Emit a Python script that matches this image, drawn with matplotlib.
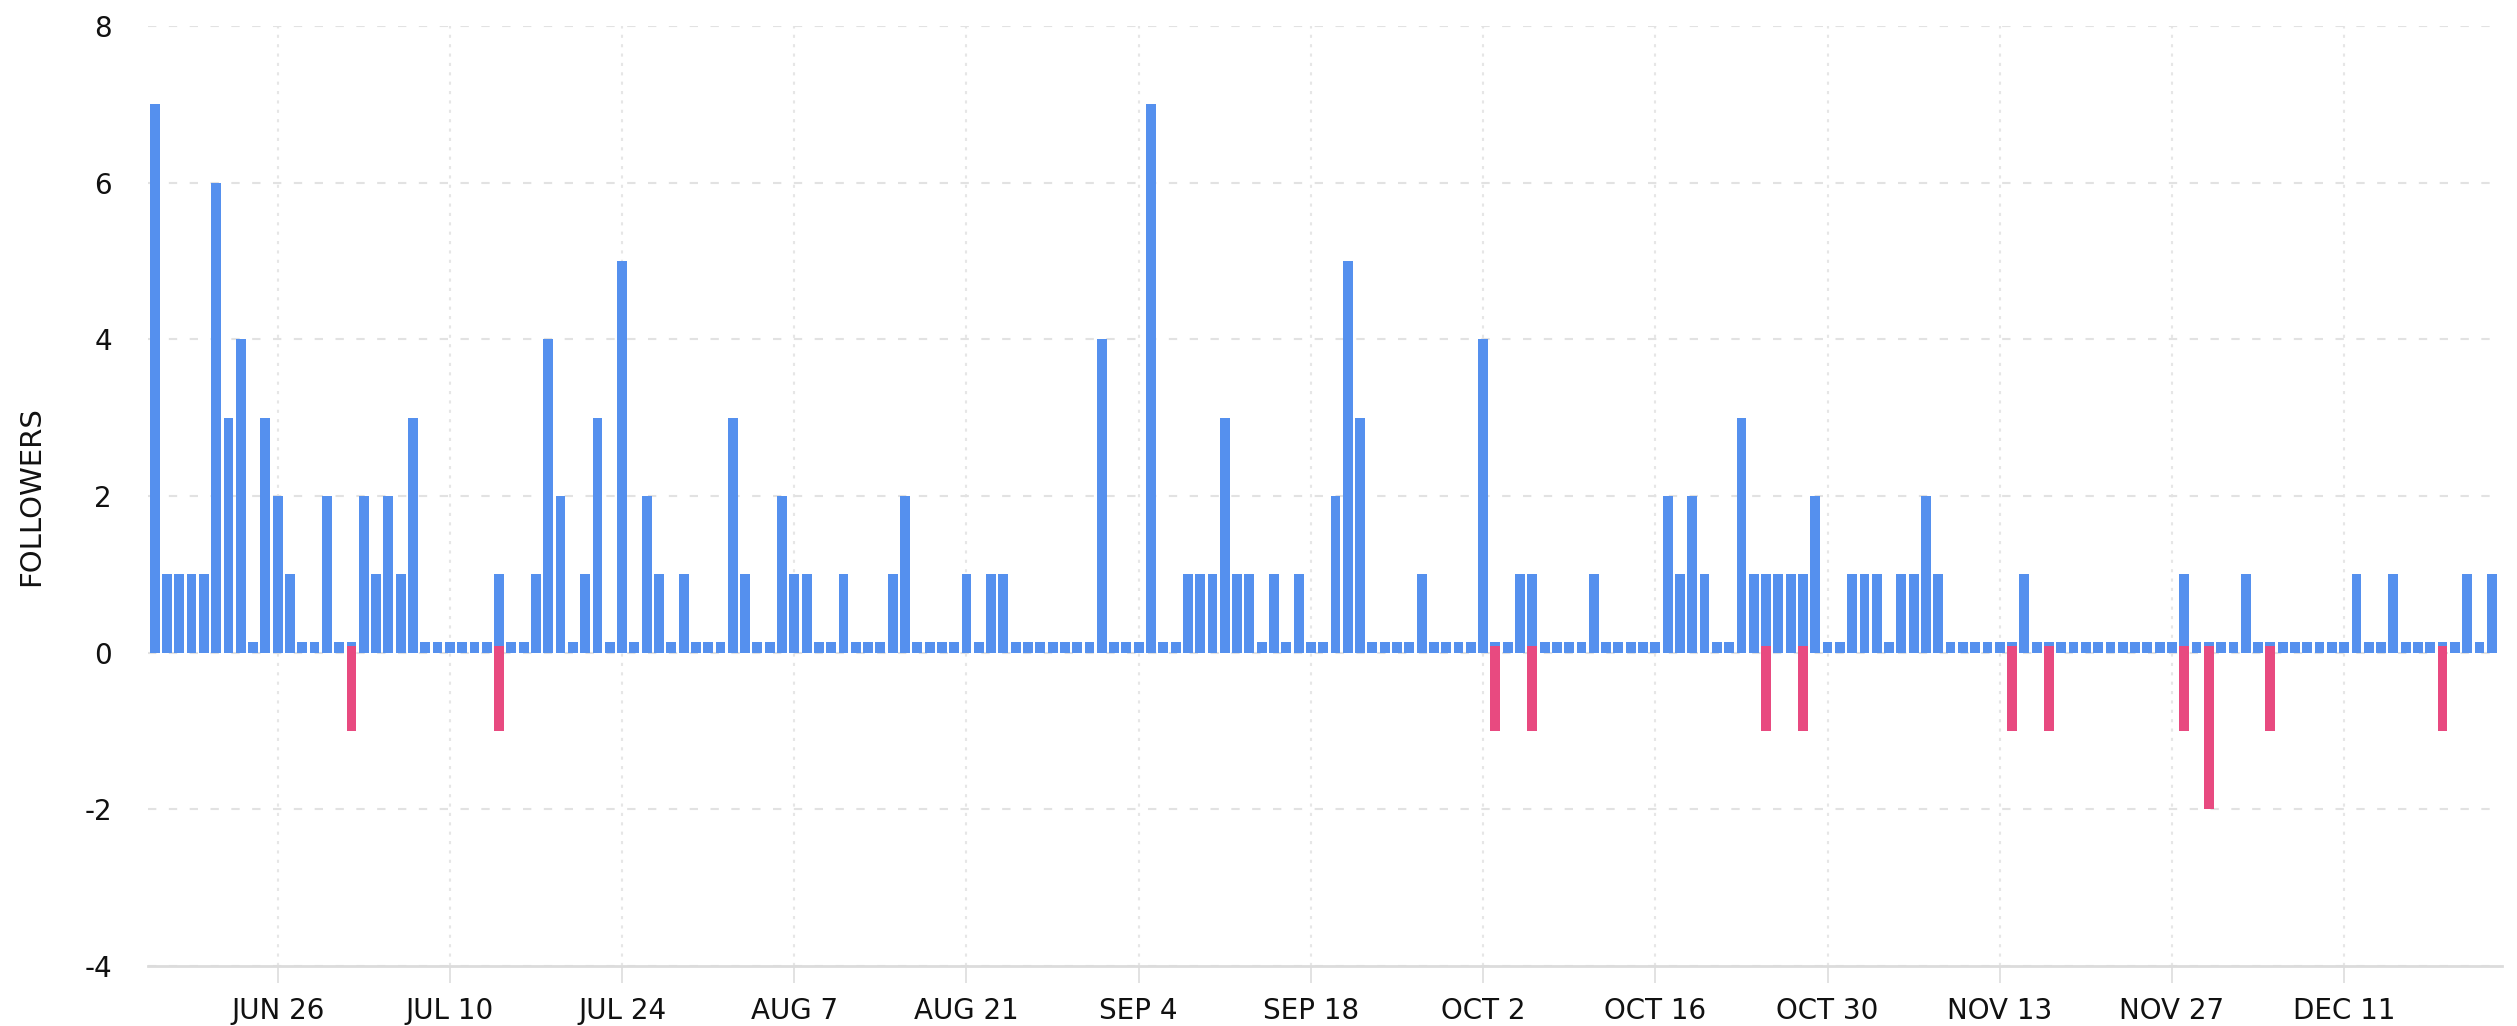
import pandas as pd
import numpy as np
import matplotlib
matplotlib.use('Agg')
import matplotlib.pyplot as plt

plt.rcParams['axes.unicode_minus'] = False
plt.rcParams['font.family'] = 'DejaVu Sans'

# daily follower changes, Jun 16 -> Dec 23
days = pd.date_range('2023-06-16', '2023-12-23', freq='D')

gained = [7, 1, 1, 1, 1, 6, 3, 4, 0, 3, 2, 1, 0, 0, 2, 0,
          0, 2, 1, 2, 1, 3, 0, 0, 0, 0, 0, 0, 1, 0, 0, 1,
          4, 2, 0, 1, 3, 0, 5, 0, 2, 1, 0, 1, 0, 0, 0, 3,
          1, 0, 0, 2, 1, 1, 0, 0, 1, 0, 0, 0, 1, 2, 0, 0,
          0, 0, 1, 0, 1, 1, 0, 0, 0, 0, 0, 0, 0, 4, 0, 0,
          0, 7, 0, 0, 1, 1, 1, 3, 1, 1, 0, 1, 0, 1, 0, 0,
          2, 5, 3, 0, 0, 0, 0, 1, 0, 0, 0, 0, 4, 0, 0, 1,
          1, 0, 0, 0, 0, 1, 0, 0, 0, 0, 0, 2, 1, 2, 1, 0,
          0, 3, 1, 1, 1, 1, 1, 2, 0, 0, 1, 1, 1, 0, 1, 1,
          2, 1, 0, 0, 0, 0, 0, 0, 1, 0, 0, 0, 0, 0, 0, 0,
          0, 0, 0, 0, 0, 1, 0, 0, 0, 0, 1, 0, 0, 0, 0, 0,
          0, 0, 0, 1, 0, 0, 1, 0, 0, 0, 0, 0, 1, 0, 1]

lost = [0, 0, 0, 0, 0, 0, 0, 0, 0, 0, 0, 0, 0, 0, 0, 0,
        1, 0, 0, 0, 0, 0, 0, 0, 0, 0, 0, 0, 1, 0, 0, 0,
        0, 0, 0, 0, 0, 0, 0, 0, 0, 0, 0, 0, 0, 0, 0, 0,
        0, 0, 0, 0, 0, 0, 0, 0, 0, 0, 0, 0, 0, 0, 0, 0,
        0, 0, 0, 0, 0, 0, 0, 0, 0, 0, 0, 0, 0, 0, 0, 0,
        0, 0, 0, 0, 0, 0, 0, 0, 0, 0, 0, 0, 0, 0, 0, 0,
        0, 0, 0, 0, 0, 0, 0, 0, 0, 0, 0, 0, 0, 1, 0, 0,
        1, 0, 0, 0, 0, 0, 0, 0, 0, 0, 0, 0, 0, 0, 0, 0,
        0, 0, 0, 1, 0, 0, 1, 0, 0, 0, 0, 0, 0, 0, 0, 0,
        0, 0, 0, 0, 0, 0, 0, 1, 0, 0, 1, 0, 0, 0, 0, 0,
        0, 0, 0, 0, 0, 1, 0, 2, 0, 0, 0, 0, 1, 0, 0, 0,
        0, 0, 0, 0, 0, 0, 0, 0, 0, 0, 1, 0, 0, 0, 0]

ticks = pd.date_range('2023-06-26', '2023-12-11', freq='14D')
tick_labels = [d.strftime('%b').upper() + ' ' + str(d.day) for d in ticks]

blue = '#5590ee'
pink = '#e84a80'

fig = plt.figure(figsize=(25.17, 10.26), dpi=100)
ax = fig.add_axes([148/2517, 60/1026, (2502-148)/2517, 940/1026])

# zero days still get a tiny stub, like the original
g = np.array(gained, dtype=float)
g_draw = np.where(g > 0, g, 0.13)
ax.bar(days, g_draw, width=0.8, color=blue, zorder=3)

l = np.array(lost, dtype=float)
mask = l > 0
ax.bar(days[mask], -(l[mask] + 0.09), bottom=0.09, width=0.8, color=pink, zorder=4)

ax.set_ylim(-4, 8)
ax.set_yticks([-4, -2, 0, 2, 4, 6, 8])
ax.set_xlim(days[0] - pd.Timedelta(hours=13), days[-1] + pd.Timedelta(hours=20))
ax.set_xticks(ticks)
ax.set_xticklabels(tick_labels)

for s in ['top', 'right', 'left']:
    ax.spines[s].set_visible(False)
ax.spines['bottom'].set_color('#dcdcdc')
ax.spines['bottom'].set_linewidth(2)

ax.grid(axis='y', color='#e2e2e2', linestyle=(0, (4, 6)), linewidth=1.5, zorder=0)
ax.grid(axis='x', color='#e6e6e6', linestyle=(0, (1.5, 3)), linewidth=1.5, zorder=0)

ax.tick_params(axis='y', length=0, pad=26, labelsize=20, labelcolor='#111111')
ax.tick_params(axis='x', length=12, width=1.2, color='#dddddd', pad=10,
               labelsize=20, labelcolor='#111111')
ax.set_ylabel('FOLLOWERS', fontsize=21, labelpad=28, color='#111111')

plt.savefig('out.png', dpi=100)
